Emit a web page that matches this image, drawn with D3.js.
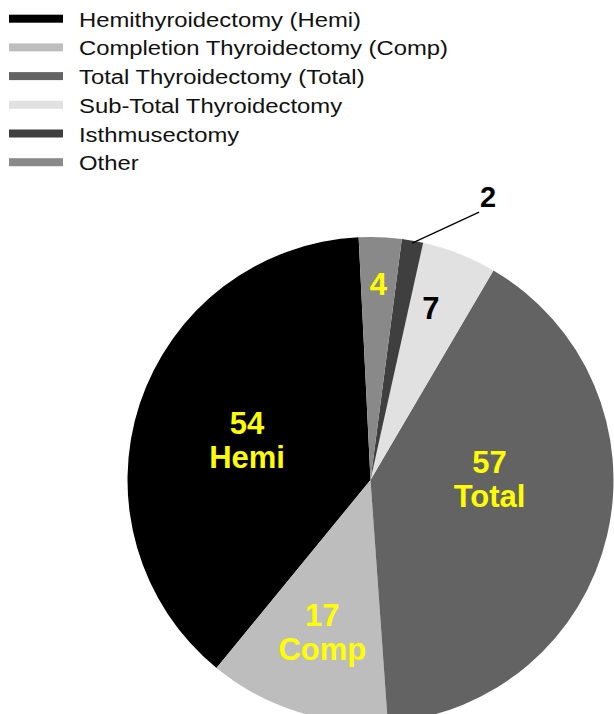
<!DOCTYPE html>
<html>
<head>
<meta charset="utf-8">
<script src="https://cdn.jsdelivr.net/npm/d3@7"></script>
<style>
  body { margin: 0; background: #fff; }
  svg { display: block; font-family: "Liberation Sans", Arial, sans-serif; }
</style>
</head>
<body>
<div id="chart"></div>
<script>
// data
const categories = ['Hemithyroidectomy (Hemi)', 'Completion Thyroidectomy (Comp)', 'Total Thyroidectomy (Total)',
  'Sub-Total Thyroidectomy', 'Isthmusectomy', 'Other'];
const shortNames = ['Hemi', 'Comp', 'Total', '', '', ''];
const counts = [54, 17, 57, 7, 2, 4];

const w = 614, h = 714;
const cx = 370.5, cy = 480, radius = 243;

const color = d3.scaleOrdinal()
  .domain(categories)
  .range(['#000000', '#bdbdbd', '#636363', '#e1e1e1', '#3f3f3f', '#898989']);

// label placement: fraction of radius + small angle nudge (degrees)
const labelR = [0.535, 0.655, 0.49, 0.745, 0, 0.8];
const labelNudge = [0, 0, -14, -2, 0, 0];
const labelFill = ['#ffff00', '#ffff00', '#ffff00', '#000', '#000', '#ffff00'];

const svg = d3.select('#chart').append('svg')
  .attr('width', w)
  .attr('height', h);

// legend
const legend = svg.selectAll('.legend')
  .data(categories)
  .enter().append('g')
  .attr('class', 'legend')
  .attr('transform', (d, i) => 'translate(0,' + (18.7 + i * 28.7) + ')');

legend.append('rect')
  .attr('x', 9).attr('y', -4)
  .attr('width', 54).attr('height', 8)
  .attr('fill', d => color(d));

legend.append('text')
  .attr('transform', 'translate(79,8) scale(1.135,1)')
  .attr('font-size', 21)
  .attr('fill', '#111')
  .text(d => d);

// pie, counter-clockwise from just left of 12 o'clock
const start = -2.8 * Math.PI / 180;
const pie = d3.pie()
  .value(d => d)
  .sort(null)
  .startAngle(start)
  .endAngle(start - 2 * Math.PI);

const arcs = pie(counts);
const arc = d3.arc().innerRadius(0).outerRadius(radius);

const g = svg.append('g').attr('transform', 'translate(' + cx + ',' + cy + ')');

g.selectAll('path')
  .data(arcs)
  .enter().append('path')
  .attr('d', arc)
  .attr('fill', (d, i) => color(categories[i]));

// labels
const lab = g.selectAll('.lab')
  .data(arcs.filter((d, i) => labelR[i] > 0))
  .enter().append('text')
  .attr('class', 'lab')
  .attr('text-anchor', 'middle')
  .attr('font-weight', 'bold')
  .attr('font-size', 31)
  .attr('fill', d => labelFill[d.index])
  .attr('transform', d => {
    const a = (d.startAngle + d.endAngle) / 2 + labelNudge[d.index] * Math.PI / 180;
    const r = radius * labelR[d.index];
    return 'translate(' + (r * Math.sin(a)) + ',' + (-r * Math.cos(a)) + ')';
  });

lab.each(function(d) {
  const t = d3.select(this);
  const name = shortNames[d.index];
  if (name) {
    t.append('tspan').attr('x', 0).attr('dy', '-0.18em').text(d.data);
    t.append('tspan').attr('x', 0).attr('dy', '1.1em').text(name);
  } else {
    t.append('tspan').attr('x', 0).attr('dy', '0.3em').text(d.data);
  }
});

// leader line for the small Isthmusectomy slice
const small = arcs[4];
const am = (small.startAngle + small.endAngle) / 2;
const p0 = [radius * 0.99 * Math.sin(am), -radius * 0.99 * Math.cos(am)];
const p1 = [p0[0] + 67, p0[1] - 31];
g.append('line')
  .attr('x1', p0[0]).attr('y1', p0[1])
  .attr('x2', p1[0]).attr('y2', p1[1])
  .attr('stroke', '#000')
  .attr('stroke-width', 1.3);
g.append('text')
  .attr('x', p1[0] + 9).attr('y', p1[1] - 5)
  .attr('text-anchor', 'middle')
  .attr('font-weight', 'bold')
  .attr('font-size', 29)
  .attr('fill', '#000')
  .text(small.data);
</script>
</body>
</html>
